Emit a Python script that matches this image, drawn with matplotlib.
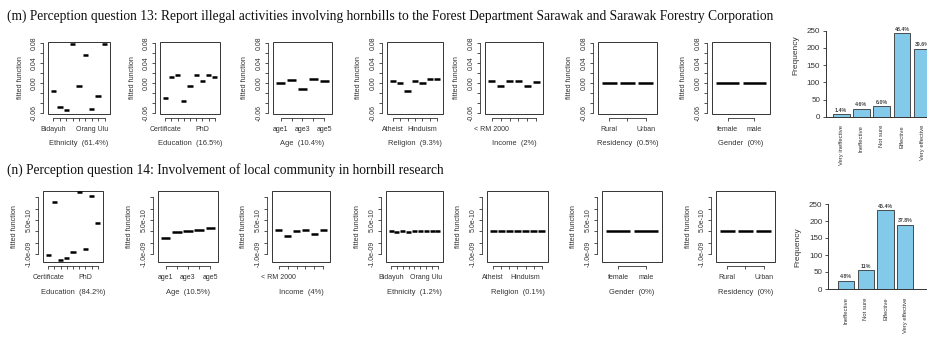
import numpy as np
import matplotlib
matplotlib.use("Agg")
import matplotlib.pyplot as plt
from matplotlib.patches import Rectangle

# ---- data: (m) perception question 13 ----
m_ethnicity = [-0.0155, -0.049, -0.055, 0.079, -0.006, 0.056, -0.053, -0.026, 0.079]
m_education = [-0.031, 0.0128, 0.0162, -0.0358, -0.006, 0.0162, 0.004, 0.0162, 0.0128]
m_age = [-0.0007, 0.006, -0.0128, 0.0074, 0.0047]
m_religion = [0.004, -0.0007, -0.016, 0.0047, 0.0007, 0.0074, 0.0074]
m_income = [0.004, -0.006, 0.004, 0.004, -0.006, 0.002]
m_residency = [0.0, 0.0, 0.0]
m_gender = [0.0, 0.0]

m_ethnicity_ticks = {1: "Bidayuh", 7: "Orang Ulu"}
m_education_ticks = {1: "Certificate", 7: "PhD"}
m_age_ticks = {1: "age1", 3: "age3", 5: "age5"}
m_religion_ticks = {1: "Atheist", 5: "Hinduism"}
m_income_ticks = {1: "< RM 2000"}
m_residency_ticks = {1: "Rural", 3: "Urban"}
m_gender_ticks = {1: "female", 2: "male"}

m_xlabels = ["Ethnicity  (61.4%)", "Education  (16.5%)", "Age  (10.4%)", "Religion  (9.3%)",
             "Income  (2%)", "Residency  (0.5%)", "Gender  (0%)"]

m_bar_labels = ["Very ineffective", "Ineffective", "Not sure", "Effective", "Very effective"]
m_bar_counts = [7, 23, 30, 242, 198]
m_bar_pct = ["1.4%", "4.6%", "6.0%", "48.4%", "39.6%"]

# ---- data: (n) perception question 14 ----
n_education = [-1.05e-9, 1.28e-9, -1.25e-9, -1.15e-9, -0.89e-9, 1.72e-9, -0.76e-9, 1.57e-9, 0.36e-9]
n_age = [-2.9e-10, -0.3e-10, 0.15e-10, 0.7e-10, 1.3e-10]
n_income = [0.7e-10, -1.9e-10, 0.15e-10, 0.7e-10, -1.3e-10, 0.7e-10]
n_ethnicity = [0.1e-10, -0.2e-10, 0.1e-10, -0.2e-10, 0.05e-10, 0.05e-10, 0.0, 0.3e-10, 0.3e-10]
n_religion = [0.0] * 7
n_gender = [0.0, 0.0]
n_residency = [0.0, 0.0, 0.0]

n_education_ticks = {1: "Certificate", 7: "PhD"}
n_age_ticks = {1: "age1", 3: "age3", 5: "age5"}
n_income_ticks = {1: "< RM 2000"}
n_ethnicity_ticks = {1: "Bidayuh", 7: "Orang Ulu"}
n_religion_ticks = {1: "Atheist", 5: "Hinduism"}
n_gender_ticks = {1: "female", 2: "male"}
n_residency_ticks = {1: "Rural", 3: "Urban"}

n_xlabels = ["Education  (84.2%)", "Age  (10.5%)", "Income  (4%)", "Ethnicity  (1.2%)",
             "Religion  (0.1%)", "Gender  (0%)", "Residency  (0%)"]

n_bar_labels = ["Ineffective", "Not sure", "Effective", "Very effective"]
n_bar_counts = [24, 55, 232, 189]
n_bar_pct = ["4.8%", "11%", "46.4%", "37.8%"]

m_title = ("(m) Perception question 13: Report illegal activities involving hornbills to the "
           "Forest Department Sarawak and Sarawak Forestry Corporation")
n_title = "(n) Perception question 14: Involvement of local community in hornbill research"

# ---- layout (pixels) ----
W, H = 928, 341
SANS = "Liberation Sans"
SERIF = "Liberation Serif"
INK = "#333333"

plt.rcParams["font.family"] = [SANS, "DejaVu Sans"]

fig = plt.figure(figsize=(W / 100, H / 100), dpi=100)


def px_axes(x0, y0, x1, y1):
    return fig.add_axes([x0 / W, 1 - y1 / H, (x1 - x0) / W, (y1 - y0) / H])


def ftext(x, y, s, **kw):
    return fig.text(x / W, 1 - y / H, s, **kw)


def draw_term_panel(box, values, ticks, xlabel, ylim, yticks, ylabels, xlab_y):
    """
    :param box: x0, y0, x1, y1 of the plot frame in pixels
    :param values: fitted effect per factor level
    :param ticks: dict level -> tick label
    """
    x0, y0, x1, y1 = box
    ax = px_axes(x0, y0, x1, y1)
    n = len(values)
    ext = 0.04 * n
    for i, v in enumerate(values, start=1):
        ax.plot([i - 0.42, i + 0.42], [v, v], color="black", lw=1.8, solid_capstyle="butt")
    ax.set_xlim(0.5 - ext, n + 0.5 + ext)
    ax.set_ylim(*ylim)

    # spines first: set_position resets the ticks
    for side in ["top", "right"]:
        ax.spines[side].set_visible(False)
    ax.spines["left"].set_position(("outward", 3.5))
    ax.spines["bottom"].set_position(("outward", 3))
    ax.spines["left"].set_bounds(yticks[0], yticks[-1])
    ax.spines["bottom"].set_bounds(1, n)
    for side in ["left", "bottom"]:
        ax.spines[side].set_linewidth(0.6)
        ax.spines[side].set_color(INK)
    ax.add_patch(Rectangle((0, 0), 1, 1, transform=ax.transAxes, fill=False, lw=0.7, ec=INK, clip_on=False))

    ax.tick_params(length=2.5, width=0.6, color=INK, pad=1.5, labelsize=5.0, labelcolor=INK)
    ax.tick_params(axis="x", pad=3)
    ax.set_xticks(range(1, n + 1))
    ax.set_xticklabels([ticks.get(i, "") for i in range(1, n + 1)])
    ax.set_yticks(yticks)
    ax.set_yticklabels(ylabels, rotation=90, va="center")

    ftext(x0 - 28, (y0 + y1) / 2, "fitted function", rotation=90, ha="center", va="center",
          fontsize=5.2, color=INK)
    ftext((x0 + x1) / 2, xlab_y, xlabel, ha="center", va="center", fontsize=5.4, color=INK)
    return ax


def draw_bar_panel(left, right, zero_y, px_per_unit, px_per_count, top_y, labels, counts, pct,
                   ylab_pos):
    """
    barplot drawn like R: width 1, space 0.2
    :param left: (pixel x of the y axis, pixel gap from axis to first bar)
    """
    x = 0.7 + 1.2 * np.arange(len(counts))
    x_lo = 0.2 - left[1] / px_per_unit
    x_hi = x_lo + (right - left[0]) / px_per_unit
    ax = px_axes(left[0], top_y, right, zero_y)
    ax.bar(x, counts, width=1.0, color="#82c9ea", edgecolor=INK, linewidth=0.6)
    ax.set_xlim(x_lo, x_hi)
    ax.set_ylim(0, (zero_y - top_y) / px_per_count)
    for xi, c, p in zip(x, counts, pct):
        ax.text(xi, c + 4, p, ha="center", va="bottom", fontsize=3.8,
                fontweight="bold", color="#444444", clip_on=False)

    for side in ["top", "right"]:
        ax.spines[side].set_visible(False)
    ax.spines["left"].set_bounds(0, 250)
    for side in ["left", "bottom"]:
        ax.spines[side].set_linewidth(0.7)
        ax.spines[side].set_color(INK)

    ax.tick_params(axis="x", length=0, pad=6, labelsize=4.2, labelcolor=INK)
    ax.tick_params(axis="y", length=2.5, width=0.6, color=INK, pad=1.5, labelsize=5.8, labelcolor=INK)
    ax.set_xticks(x)
    ax.set_xticklabels(labels, rotation=90, ha="center", va="top")
    ax.set_yticks([0, 50, 100, 150, 200, 250])
    ax.set_yticklabels(["0", "50", "100", "150", "200", "250"])
    ftext(ylab_pos[0], ylab_pos[1], "Frequency", rotation=90, ha="center", va="center",
          fontsize=6.0, color=INK)
    return ax


# titles
ftext(7, 16, m_title, ha="left", va="center", fontsize=9.75, family=SERIF, color="#111111")
ftext(7, 170, n_title, ha="left", va="center", fontsize=9.75, family=SERIF, color="#111111")

# row (m)
m_ylim = (-0.0628, 0.083)
m_yticks = [-0.06, -0.04, -0.02, 0.0, 0.02, 0.04, 0.06, 0.08]
m_ylabels = ["-0.06", "", "", "0.00", "", "0.04", "", "0.08"]
m_boxes = [(48, 42, 110, 114), (160, 42, 220, 114), (273, 42, 332, 114), (387, 42, 443, 114),
           (485, 42, 543, 114), (598, 42, 657, 114), (712, 42, 770, 114)]
m_values = [m_ethnicity, m_education, m_age, m_religion, m_income, m_residency, m_gender]
m_ticks = [m_ethnicity_ticks, m_education_ticks, m_age_ticks, m_religion_ticks,
           m_income_ticks, m_residency_ticks, m_gender_ticks]
for box, vals, tks, xl in zip(m_boxes, m_values, m_ticks, m_xlabels):
    draw_term_panel(box, vals, tks, xl, m_ylim, m_yticks, m_ylabels, 143)

# row (n)
n_ylim = (-1.347e-9, 1.78e-9)
n_yticks = [-1.0e-9, -5e-10, 0.0, 5e-10, 1.0e-9, 1.5e-9]
n_ylabels = ["-1.0e-09", "", "", "5.0e-10", "", ""]
n_boxes = [(43, 191, 103, 262), (158, 191, 218, 262), (272, 191, 330, 262), (386, 191, 443, 262),
           (487, 191, 548, 262), (602, 191, 662, 262), (716, 191, 775, 262)]
n_values = [n_education, n_age, n_income, n_ethnicity, n_religion, n_gender, n_residency]
n_ticks = [n_education_ticks, n_age_ticks, n_income_ticks, n_ethnicity_ticks,
           n_religion_ticks, n_gender_ticks, n_residency_ticks]
for box, vals, tks, xl in zip(n_boxes, n_values, n_ticks, n_xlabels):
    draw_term_panel(box, vals, tks, xl, n_ylim, n_yticks, n_ylabels, 293)

# frequency bar charts
draw_bar_panel((825.7, 7.0), 960, 116.7, 16.9, 0.344, 20, m_bar_labels, m_bar_counts, m_bar_pct,
               (796, 55))
draw_bar_panel((828, 10.0), 927, 289, 16.4, 0.34, 195, n_bar_labels, n_bar_counts, n_bar_pct,
               (798, 247))

fig.savefig("out.png", dpi=100, facecolor="white")
